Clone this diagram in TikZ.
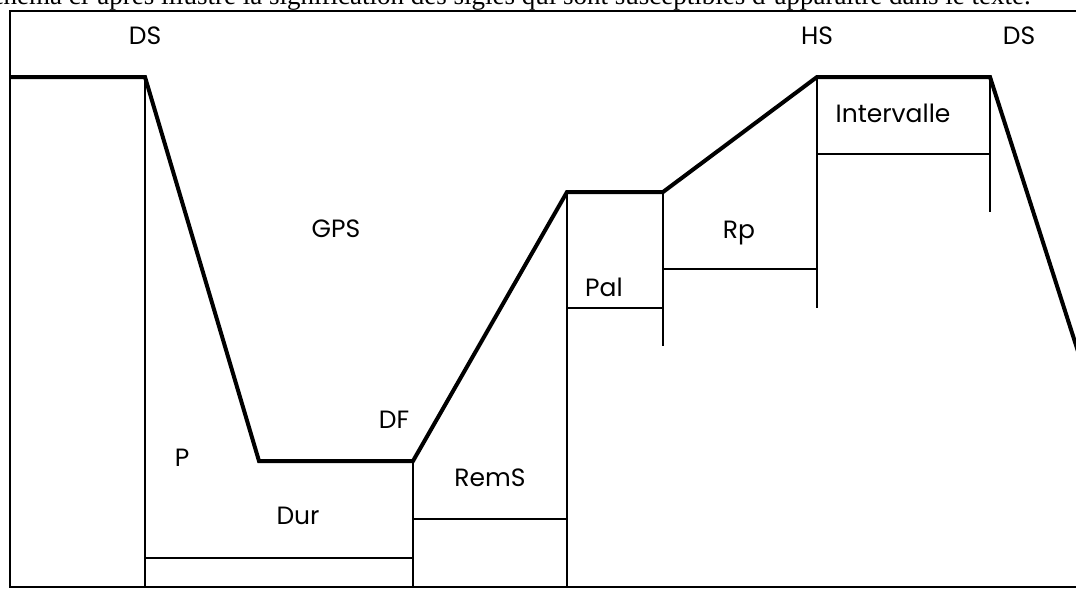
\documentclass[tikz,border=0pt]{standalone}
\usepackage{fontspec}
\setmainfont{Liberation Serif}
\newfontfamily\lblfont{Poppins}
\begin{document}
\begin{tikzpicture}[x=1pt,y=-1pt,
  thickline/.style={line width=4pt,line join=miter},
  thinline/.style={line width=2pt},
  lbl/.style={font=\lblfont\fontsize{25}{25}\selectfont,inner sep=0pt,anchor=center}]
\useasboundingbox (0,0) rectangle (1076,589);
\clip (0,0) rectangle (1076,589);
\fill[white] (0,0) rectangle (1076,589);
% caption line (cut at top, as in the reference)
\node (cap) [anchor=base east,inner sep=0pt,font=\fontsize{27}{27}\selectfont] at (1031,5) {Le schéma ci-après illustre la signification des sigles qui sont susceptibles d'apparaître dans le texte.};
% frame
\draw[line width=2pt] (1100,11) -- (10,11) -- (10,587) -- (1100,587);
% profile vertices
\coordinate (a0) at (10,77);
\coordinate (a1) at (145,77);
\coordinate (a2) at (259,461);
\coordinate (a3) at (413,461);
\coordinate (a4) at (567,192);
\coordinate (a5) at (663,192);
\coordinate (a6) at (817,77);
\coordinate (a7) at (990,77);
\coordinate (a8) at (1100,420);
\draw[thickline] (a0) -- (a1) -- (a2) -- (a3) -- (a4) -- (a5) -- (a6) -- (a7) -- (a8);
% verticals
\coordinate (b1) at (145,587);
\coordinate (b3) at (413,587);
\coordinate (b4) at (567,587);
\coordinate (b5) at (663,346);
\coordinate (b6) at (817,308);
\coordinate (b7) at (990,212);
\draw[thinline] (a1) -- (b1);
\draw[thinline] (a3) -- (b3);
\draw[thinline] (a4) -- (b4);
\draw[thinline] (a5) -- (b5);
\draw[thinline] (a6) -- (b6);
\draw[thinline] (a7) -- (b7);
% horizontals
\coordinate (h1a) at (145,558); \coordinate (h1b) at (413,558);
\coordinate (h2a) at (413,519); \coordinate (h2b) at (567,519);
\coordinate (h3a) at (567,308); \coordinate (h3b) at (663,308);
\coordinate (h4a) at (663,269); \coordinate (h4b) at (817,269);
\coordinate (h5a) at (817,154); \coordinate (h5b) at (990,154);
\draw[thinline] (h1a) -- (h1b);
\draw[thinline] (h2a) -- (h2b);
\draw[thinline] (h3a) -- (h3b);
\draw[thinline] (h4a) -- (h4b);
\draw[thinline] (h5a) -- (h5b);
% labels
\node[lbl] (ds1) at (145,36) {DS};
\node[lbl] (hs) at (817,36) {HS};
\node[lbl] (ds2) at (1019,36) {DS};
\node[lbl] (gps) at (336,229) {GPS};
\node[lbl] (df) at (394,420) {DF};
\node[lbl] (p) at (182,458) {P};
\node[lbl] (dur) at (298,516) {Dur};
\node[lbl] (rems) at (490,478) {RemS};
\node[lbl] (pal) at (604,287) {Pal};
\node[lbl] (rp) at (739,233) {Rp};
\node[lbl] (int) at (893,113) {Intervalle};
\end{tikzpicture}
\end{document}
